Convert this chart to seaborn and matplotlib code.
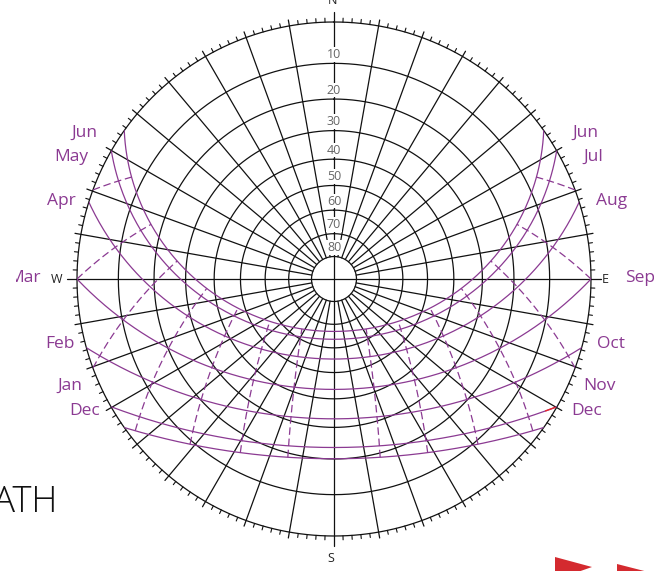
import numpy as np
import pandas as pd
import matplotlib
matplotlib.use("Agg")
import matplotlib.pyplot as plt
import matplotlib.transforms as mtransforms
import seaborn as sns

sns.set_style("white")
plt.rcParams['font.family'] = ['Open Sans', 'DejaVu Sans']

# sun path data (latitude read from the noon altitudes)
latitude = 46.5
months_left = ['Jun', 'May', 'Apr', 'Mar', 'Feb', 'Jan', 'Dec']
months_right = ['Jun', 'Jul', 'Aug', 'Sep', 'Oct', 'Nov', 'Dec']
declinations = [23.44, 20.1, 11.9, 0.0, -10.6, -20.0, -23.44]
hours = [5, 6, 7, 8, 9, 10, 11, 13, 14, 15, 16, 17, 18, 19]
altitude_rings = [10, 20, 30, 40, 50, 60, 70, 80]
compass = ['N', 'E', 'S', 'W']
# short red mark on the Nov sunrise end (hour angles, degrees)
red_mark_dec = -20.0
red_mark_hours = [-67.0, -64.5]

purple = '#8b3a92'
W, H = 654, 571
cx, cy, R = 334, 279, 257


def stereo(alt):
    return np.tan(np.radians(90 - np.asarray(alt)) / 2)


def sun_position(dec, hour_angle):
    phi = np.radians(latitude)
    d = np.radians(dec)
    h = np.radians(hour_angle)
    east = -np.cos(d) * np.sin(h)
    north = np.sin(d) * np.cos(phi) - np.cos(d) * np.cos(h) * np.sin(phi)
    up = np.sin(d) * np.sin(phi) + np.cos(d) * np.cos(h) * np.cos(phi)
    alt = np.degrees(np.arcsin(np.clip(up, -1, 1)))
    az = np.arctan2(east, north)
    return az, alt


def px(x, y):
    return x / W, 1 - y / H


fig = plt.figure(figsize=(W / 100, H / 100), dpi=100)
ax = fig.add_axes([(cx - R) / W, (H - cy - R) / H, 2 * R / W, 2 * R / H],
                  projection='polar')
ax.set_theta_zero_location('N')
ax.set_theta_direction(-1)
ax.set_rlim(0, 1)
ax.grid(False)
ax.set_xticks([])
ax.set_yticks([])
ax.spines['polar'].set_visible(False)
ax.patch.set_alpha(0)

grid_kw = dict(color='#111111', lw=0.9, clip_on=False)
full = np.linspace(0, 2 * np.pi, 721)

# horizon and altitude rings
ax.plot(full, np.ones_like(full), **grid_kw)
for a in altitude_rings:
    ax.plot(full, np.full_like(full, stereo(a)), **grid_kw)

# azimuth lines and outer ticks
px_r = 1 / R
for deg in range(0, 360, 2):
    t = np.radians(deg)
    if deg % 90 == 0:
        ax.plot([t, t], [0, 1 + 10 * px_r], **grid_kw)
    elif deg % 10 == 0:
        ax.plot([t, t], [stereo(80), 1 + 6 * px_r], **grid_kw)
    else:
        ax.plot([t, t], [1, 1 + 4 * px_r], color='#111111', lw=0.8, clip_on=False)

# altitude labels
lab_tr = mtransforms.offset_copy(ax.transData, fig=fig, y=9, units='dots')
for a in altitude_rings:
    ax.text(0, stereo(a), str(a), transform=lab_tr, ha='center', va='center',
            fontsize=9, color='#666666',
            bbox=dict(facecolor='white', edgecolor='none', pad=0.5))

# date lines
for dec in declinations:
    h0 = np.degrees(np.arccos(-np.tan(np.radians(latitude)) * np.tan(np.radians(dec))))
    ha_vals = np.linspace(-h0, h0, 300)
    az, alt = sun_position(dec, ha_vals)
    df = pd.DataFrame({'theta': az, 'r': stereo(np.clip(alt, 0, 90))})
    sns.lineplot(data=df, x='theta', y='r', sort=False, estimator=None,
                 color=purple, lw=0.9, ax=ax)

# hour lines
for hr in hours:
    hang = (hr - 12) * 15.0
    dmin = np.degrees(np.arctan(-np.cos(np.radians(hang)) / np.tan(np.radians(latitude))))
    dmin = max(-23.44, dmin)
    dec_vals = np.linspace(dmin, 23.44, 200)
    az, alt = sun_position(dec_vals, hang)
    df = pd.DataFrame({'theta': az, 'r': stereo(np.clip(alt, 0, 90))})
    sns.lineplot(data=df, x='theta', y='r', sort=False, estimator=None,
                 color=purple, lw=0.9, linestyle=(0, (6, 3)), ax=ax)

# red mark
az, alt = sun_position(red_mark_dec, np.linspace(*red_mark_hours, 20))
df = pd.DataFrame({'theta': az, 'r': stereo(np.clip(alt, 0, 90))})
sns.lineplot(data=df, x='theta', y='r', sort=False, estimator=None,
             color='#e8262b', lw=1.0, ax=ax)

ax.set_xlabel('')
ax.set_ylabel('')

# compass letters
for letter, (x, y) in zip(compass, [(333, 0), (605, 279), (331, 558), (57, 279)]):
    fig.text(*px(x, y), letter, ha='center', va='center', fontsize=9, color='#222222')

# month labels
left_pos = [(97, 133), (88, 157), (76, 201), (41, 278), (75, 344), (82, 386), (100, 411)]
right_pos = [(572, 133), (583, 157), (596, 201), (625, 278), (597, 344), (583, 386), (571, 411)]
clip_left = mtransforms.TransformedBbox(
    mtransforms.Bbox([[16 / W, 0], [1, 1]]), fig.transFigure)
for name, (x, y) in zip(months_left, left_pos):
    t = fig.text(*px(x, y), name, ha='right', va='center', fontsize=12.5, color=purple)
    if name == 'Mar':
        t.set_clip_box(clip_left)
        t.set_clip_on(True)
for name, (x, y) in zip(months_right, right_pos):
    fig.text(*px(x, y), name, ha='left', va='center', fontsize=12.5, color=purple)

# fragments of the surrounding page
fig.text(*px(57, 503), 'SUN PATH', ha='right', va='center', fontsize=26,
         color='#111111', fontweight='light')
tri_ax = fig.add_axes([0, 0, 1, 1], zorder=-1)
tri_ax.set_xlim(0, W)
tri_ax.set_ylim(H, 0)
tri_ax.axis('off')
tri_ax.fill([555, 555, 592], [557, 580, 567], color='#d42a2f', lw=0)
tri_ax.fill([617, 617, 656], [564, 585, 574], color='#d42a2f', lw=0)

fig.savefig('out.png', dpi=100)
